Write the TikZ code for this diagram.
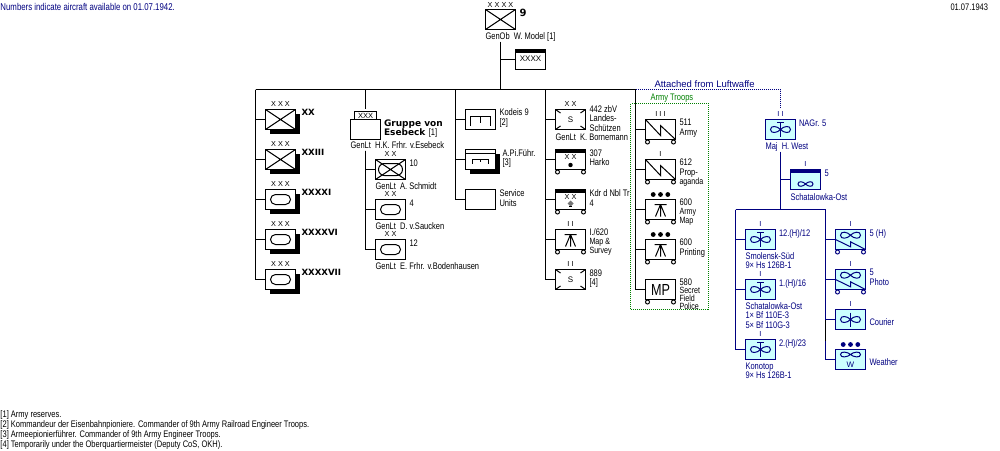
\documentclass[tikz,border=0pt]{standalone}
\usepackage{fontspec}
\setmainfont[FakeStretch=0.79]{Liberation Sans}
\newfontfamily\heavyfont{DejaVu Sans}
\newfontfamily\echfont[WordSpace=1.5]{Liberation Sans}
\newfontfamily\plainfont{Liberation Sans}
\usetikzlibrary{shadows}

\definecolor{lwblue}{RGB}{0,0,128}
\definecolor{lwfill}{RGB}{204,255,255}
\definecolor{armygreen}{RGB}{0,128,0}

\tikzset{
  unitbox/.style={draw,fill=white,minimum width=30pt,minimum height=20pt,inner sep=0pt,font=\echfont\fontsize{8}{8}\selectfont},
  lwbox/.style={unitbox,draw=lwblue,fill=lwfill,text=lwblue},
  shadebox/.style={general shadow={shadow xshift=4pt,shadow yshift=-4pt,fill=black}},
  bartop/.style={path picture={\fill[#1] (path picture bounding box.north west) rectangle ([yshift=-3.5pt]path picture bounding box.north east);}},
  bartop/.default=black,
  lbl/.style={anchor=north west,inner sep=0pt,align=left,font=\fontsize{9.5}{9.5}\selectfont},
  lbls/.style={lbl,font=\fontsize{9}{8}\selectfont},
  lwlbl/.style={lbl,text=lwblue},
  heavy/.style={anchor=north west,inner sep=0pt,align=left,font=\heavyfont\bfseries\fontsize{8.6}{9}\selectfont},
  ech/.style={inner sep=0pt,font=\echfont\fontsize{7.3}{7}\selectfont},
  cross/.pic={\draw (-15,-10) -- (15,10) (-15,10) -- (15,-10);},
  oval/.pic={\draw[rounded corners=5pt] (-10,-5) rectangle (10,5);},
  wideoval/.pic={\draw[rounded corners=6pt] (-12,-6) rectangle (12,6);},
  pioneer/.pic={\draw (-10,6.5) -- (-10,-3) -- (10,-3) -- (10,6.5) (0,-3) -- (0,3);},
  corners/.pic={\draw (-15,-10) -- (-10,-6.5) (15,-10) -- (10,-6.5) (-15,10) -- (-10,6.5) (15,10) -- (10,6.5);},
  wheels/.pic={\draw[fill=white] (-13,12.5) circle [radius=2] (13,12.5) circle [radius=2];},
  dots/.pic={\fill (-7.3,0) circle [radius=2.4] (0,0) circle [radius=2.4] (7.3,0) circle [radius=2.4];},
  signal/.pic={\draw (-15,-10) -- (0,6) -- (0,-4) -- (15,10);},
  survey/.pic={\draw (-6,-5) -- (6,-5) (0,-5) -- (0,7) (0,-5) -- (-5,7) (0,-5) -- (5,7);},
  propeller/.pic={\draw (0,0) .. controls (-3,-3.5) and (-10,-4.5) .. (-10,0) .. controls (-10,4.5) and (-3,3.5) .. (0,0) .. controls (3,-3.5) and (10,-4.5) .. (10,0) .. controls (10,4.5) and (3,3.5) .. (0,0);},
  mast/.pic={\draw (0,-7) -- (0,7);},
  tmast/.pic={\draw (-3.5,-7) -- (3.5,-7) (0,-7) -- (0,7);},
  zigzag/.pic={\draw (-15,0) -- (0,7.3) -- (0,2.3) -- (15,10);}
}

% echelon marks sitting on top of a box
\newcommand{\echelon}[3][black]{\node[ech,#1] (#2-e) at ([yshift=4.7pt]#2.north) {#3};}

\begin{document}
\begin{tikzpicture}[x=1pt,y=-1pt,line width=1pt]
  \useasboundingbox (0,0) rectangle (1000,450);

  \coordinate (armyfoot) at (500.5,41.5);
  \coordinate (corpsbus) at (255.5,89.5);
  \coordinate (gruppebus) at (365.5,89.5);
  \coordinate (gruppetop) at (365.5,108.5);
  \coordinate (gruppefoot) at (365.5,150.5);
  \coordinate (staffbus) at (455.5,89.5);
  \coordinate (rearbus) at (545.5,89.5);
  \coordinate (troopbus) at (635.5,89.5);
  \coordinate (lwfoot) at (780.5,151.5);
  \coordinate (lwleft) at (735.5,209.5);
  \coordinate (lwright) at (825.5,209.5);
  \coordinate (lwmid) at (780.5,209.5);

  % army troops frame
  \node[draw=armygreen,dash pattern=on 1pt off 1pt,minimum width=78pt,minimum height=206pt,inner sep=0pt] (troops) at (669.5,206.5) {};

  % army
  \node[unitbox] (army) at (500.5,19.5) {};
  \pic at (army.center) {cross};
  \node[ech] (army-e) at (500.5,5) {X X X X};
  \node[heavy,font=\heavyfont\bfseries\fontsize{10}{10}\selectfont] (armyno) at (519,8.5) {9};
  \node[lbl] (armycdr) at (485,32) {GenOb\ \ W. Model [1]};
  \node[unitbox,bartop] (reserve) at (530.5,59.5) {\raisebox{2pt}{XXXX}};

  \draw (armyfoot) -- (armyfoot |- corpsbus);
  \draw (army.south |- reserve.west) -- (reserve.west);
  \draw (corpsbus) -- (troopbus);

  % corps
  \node[unitbox,shadebox] (xx) at (280.5,119.5) {};
  \node[unitbox,shadebox] (xxiii) at (280.5,159.5) {};
  \node[unitbox,shadebox] (xxxxi) at (280.5,199.5) {};
  \node[unitbox,shadebox] (xxxxvi) at (280.5,239.5) {};
  \node[unitbox,shadebox] (xxxxvii) at (280.5,279.5) {};
  \pic at (xx.center) {cross};
  \pic at (xxiii.center) {cross};
  \pic at (xxxxi.center) {oval};
  \pic at (xxxxvi.center) {oval};
  \pic at (xxxxvii.center) {oval};
  \foreach \u in {xx,xxiii,xxxxi,xxxxvi,xxxxvii} {
    \echelon{\u}{X X X}
    \draw (corpsbus) |- (\u.west);
  }
  \node[heavy] (xxno) at (301,108.5) {XX};
  \node[heavy] (xxiiino) at (301,149) {XXIII};
  \node[heavy] (xxxxino) at (301,188.5) {XXXXI};
  \node[heavy] (xxxxvino) at (301,228.5) {XXXXVI};
  \node[heavy] (xxxxviino) at (301,268.5) {XXXXVII};

  % Gruppe von Esebeck
  \node[unitbox] (gruppe) at (365.5,129.5) {};
  \node[draw,fill=white,minimum width=22pt,minimum height=8pt,inner sep=0pt,font=\echfont\fontsize{7.5}{7}\selectfont] (gruppetag) at (365.5,115.5) {XXX};
  \node[heavy,font=\heavyfont\bfseries\fontsize{9}{9}\selectfont] (gruppeno) at (383.5,119.5) {Gruppe von\\Esebeck \textmd{\normalfont\fontsize{9.5}{9.5}\selectfont [1]}};
  \node[lbl] (gruppecdr) at (350,141.5) {GenLt\ \ H.K. Frhr. v.Esebeck};
  \draw (gruppebus) -- (gruppetop);

  \node[unitbox] (d10) at (390.5,169.5) {};
  \node[unitbox] (d4) at (390.5,209.5) {};
  \node[unitbox] (d12) at (390.5,249.5) {};
  \pic at (d10.center) {cross};
  \pic at (d10.center) {wideoval};
  \pic at (d4.center) {oval};
  \pic at (d12.center) {oval};
  \foreach \u in {d10,d4,d12} {
    \echelon{\u}{X X}
    \draw (gruppefoot) |- (\u.west);
  }
  \node[lbl] (d10no) at (409,159.5) {10};
  \node[lbl] (d10cdr) at (375,182) {GenLt\ \ A. Schmidt};
  \node[lbl] (d4no) at (409,199.5) {4};
  \node[lbl] (d4cdr) at (375,222) {GenLt\ \ D. v.Saucken};
  \node[lbl] (d12no) at (409,239.5) {12};
  \node[lbl] (d12cdr) at (375,262) {GenLt\ \ E. Frhr. v.Bodenhausen};

  % staff units
  \node[unitbox] (kodeis) at (480.5,119.5) {};
  \node[unitbox,shadebox] (apif) at (480.5,159.5) {};
  \node[unitbox] (service) at (480.5,199.5) {};
  \pic at (kodeis.center) {pioneer};
  \draw ([yshift=-4pt]apif.north west) -- ([yshift=-4pt]apif.north east);
  \pic[xscale=.8,yscale=.5] at ([yshift=-1.2pt]apif.center) {pioneer};
  \foreach \u in {kodeis,apif,service} \draw (staffbus) |- (\u.west);
  \node[lbl] (kodeisno) at (499,108.5) {Kodeis 9\\{}[2]};
  \node[lbl] (apifno) at (502,149) {A.Pi.Führ.\\{}[3]};
  \node[lbl] (serviceno) at (499,189.5) {Service\\Units};

  % rear units
  \node[unitbox] (landes) at (570.5,119.5) {S};
  \node[unitbox,bartop] (harko) at (570.5,159.5) {};
  \node[unitbox,bartop] (kdr) at (570.5,199.5) {};
  \node[unitbox] (map) at (570.5,239.5) {};
  \node[unitbox] (sec889) at (570.5,279.5) {S};
  \pic at (landes.center) {corners};
  \pic at (sec889.center) {corners};
  \pic at (harko.center) {wheels};
  \pic at (kdr.center) {wheels};
  \pic at (map.center) {wheels};
  \pic at (map.center) {survey};
  \fill (harko.center) ++(0,5.5) circle [radius=2.2];
  \fill[black!55] (kdr.center) ++(0,1) -- ++(3,3) -- ++(-3,3) -- ++(-3,-3) -- cycle;
  \draw (kdr.center) ++(-1.5,7) -- ++(3,0);
  \node[ech] (harko-e) at (570.5,156.5) {X X};
  \node[ech] (kdr-e) at (570.5,196.5) {X X};
  \echelon{landes}{X X}
  \echelon{map}{I I}
  \echelon{sec889}{I I}
  \foreach \u in {landes,harko,kdr,map,sec889} \draw (rearbus) |- (\u.west);
  \node[lbl] (landesno) at (589,105) {442 zbV\\Landes-\\Schützen};
  \node[lbl] (landescdr) at (555,133) {GenLt\ \ K. Bornemann};
  \node[lbl] (harkono) at (589,149) {307\\Harko};
  \node[lbl] (kdrno) at (589,189.5) {Kdr d Nbl Tr\\4};
  \node[lbl] (mapno) at (589,228.5) {I./620};
  \node[lbls] (mapb) at (589,237.5) {Map \&\\Survey};
  \node[lbl] (sec889no) at (589,269) {889\\{}[4]};

  % army troops
  \node[lbl,text=armygreen] (troopsno) at (650,93.5) {Army Troops};
  \node[unitbox] (sig511) at (660.5,129.5) {};
  \node[unitbox] (sig612) at (660.5,169.5) {};
  \node[unitbox] (msp600) at (660.5,209.5) {};
  \node[unitbox] (prn600) at (660.5,249.5) {};
  \node[unitbox,font=\fontsize{16}{16}\selectfont] (mp580) at (660.5,289.5) {MP};
  \pic at (sig511.center) {signal};
  \pic at (sig612.center) {signal};
  \pic at (msp600.center) {survey};
  \pic at (prn600.center) {survey};
  \foreach \u in {sig511,sig612,msp600,prn600,mp580} {
    \pic at (\u.center) {wheels};
    \draw (troopbus) |- (\u.west);
  }
  \echelon{sig511}{I I I}
  \echelon{sig612}{I}
  \pic at ([yshift=4.5pt]msp600.north) {dots};
  \pic at ([yshift=4.5pt]prn600.north) {dots};
  \node[lbl] (sig511no) at (679,118.5) {511\\Army};
  \node[lbl] (sig612no) at (679,158.5) {612\\Prop-};
  \node[lbls] (sig612b) at (679,177) {aganda};
  \node[lbl] (msp600no) at (679,198.5) {600};
  \node[lbls] (msp600b) at (679,207.5) {Army\\Map};
  \node[lbl] (prn600no) at (679,238.5) {600\\Printing};
  \node[lbl] (mp580no) at (679,278.5) {580};
  \node[lbls] (mp580b) at (679,286.5) {Secret\\Field\\Police};

  % Luftwaffe
  \node[lwlbl,font=\plainfont\fontsize{9.5}{9.5}\selectfont] (attached) at (654,80) {Attached from Luftwaffe};
  \node[lwbox] (nagr) at (780.5,129.5) {};
  \node[lwbox,bartop=lwblue] (schat) at (805.5,179.5) {};
  \pic[lwblue] at (nagr.center) {propeller};
  \pic[lwblue] at (nagr.center) {tmast};
  \pic[lwblue,scale=.75] at ([yshift=-4.5pt]schat.center) {propeller};
  \echelon[lwblue]{nagr}{I I}
  \echelon[lwblue]{schat}{I}
  \draw[lwblue,dash pattern=on 1pt off 1pt] (troopbus) -| ([yshift=3pt]nagr-e.north);
  \draw[lwblue] (lwfoot) -- (lwmid);
  \draw[lwblue] (lwfoot |- schat.west) -- (schat.west);
  \draw[lwblue] (lwleft) -- (lwright);
  \node[lwlbl] (nagrno) at (798.5,119) {NAGr. 5};
  \node[lwlbl] (nagrcdr) at (765,142.5) {Maj\ \ H. West};
  \node[lwlbl] (schatno) at (824,169) {5};
  \node[lwlbl] (schatbase) at (790,193) {Schatalowka-Ost};

  \node[lwbox] (h12) at (760.5,239.5) {};
  \node[lwbox] (h16) at (760.5,289.5) {};
  \node[lwbox] (h23) at (760.5,349.5) {};
  \foreach \u in {h12,h16,h23} {
    \pic[lwblue] at (\u.center) {propeller};
    \pic[lwblue] at (\u.center) {tmast};
    \echelon[lwblue]{\u}{I}
    \draw[lwblue] (lwleft) |- (\u.west);
  }
  \node[lwlbl] (h12no) at (778.5,229) {12.(H)/12};
  \node[lwlbl] (h12base) at (745,252) {Smolensk-Süd\\9× Hs 126B-1};
  \node[lwlbl] (h16no) at (778.5,279) {1.(H)/16};
  \node[lwlbl] (h16base) at (745,302) {Schatalowka-Ost\\1× Bf 110E-3\\5× Bf 110G-3};
  \node[lwlbl] (h23no) at (778.5,339) {2.(H)/23};
  \node[lwlbl] (h23base) at (745,362) {Konotop\\9× Hs 126B-1};

  \node[lwbox] (h5) at (850.5,239.5) {};
  \node[lwbox] (photo) at (850.5,279.5) {};
  \node[lwbox] (courier) at (850.5,319.5) {};
  \node[lwbox] (weather) at (850.5,359.5) {};
  \foreach \u in {h5,photo} {
    \pic[lwblue] at ([yshift=4.3pt]\u.center) {propeller};
    \pic[lwblue] at (\u.center) {zigzag};
    \pic[lwblue] at (\u.center) {wheels};
  }
  \pic[lwblue] at (courier.center) {propeller};
  \pic[lwblue] at (courier.center) {mast};
  \pic[lwblue,yscale=.8] at ([yshift=5pt]weather.center) {propeller};
  \node[ech,text=lwblue,font=\echfont\fontsize{8}{8}\selectfont] (weather-w) at (850.5,364.5) {W};
  \echelon[lwblue]{h5}{I}
  \echelon[lwblue]{photo}{I}
  \echelon[lwblue]{courier}{I}
  \pic[lwblue] at ([yshift=4.5pt]weather.north) {dots};
  \foreach \u in {h5,photo,courier,weather} \draw[lwblue] (lwright) |- (\u.west);
  \draw (lwright |- courier.west) -- (825.5,341);
  \node[lwlbl] (h5no) at (869,229) {5 (H)};
  \node[lwlbl] (photono) at (869,268.5) {5\\Photo};
  \node[lwlbl] (courierno) at (869,318.5) {Courier};
  \node[lwlbl] (weatherno) at (869,358.5) {Weather};

  % header and notes
  \node[lwlbl,font=\fontsize{9.9}{9.9}\selectfont] (headleft) at (0,3) {Numbers indicate aircraft available on 01.07.1942.};
  \node[lbl] (headright) at (950,3) {01.07.1943};
  \node[lbl,font=\fontsize{9.5}{10}\selectfont] (notes) at (0,410) {[1] Army reserves.\\{}[2] Kommandeur der Eisenbahnpioniere. Commander of 9th Army Railroad Engineer Troops.\\{}[3] Armeepionierführer. Commander of 9th Army Engineer Troops.\\{}[4] Temporarily under the Oberquartiermeister (Deputy CoS, OKH).};
\end{tikzpicture}
\end{document}
